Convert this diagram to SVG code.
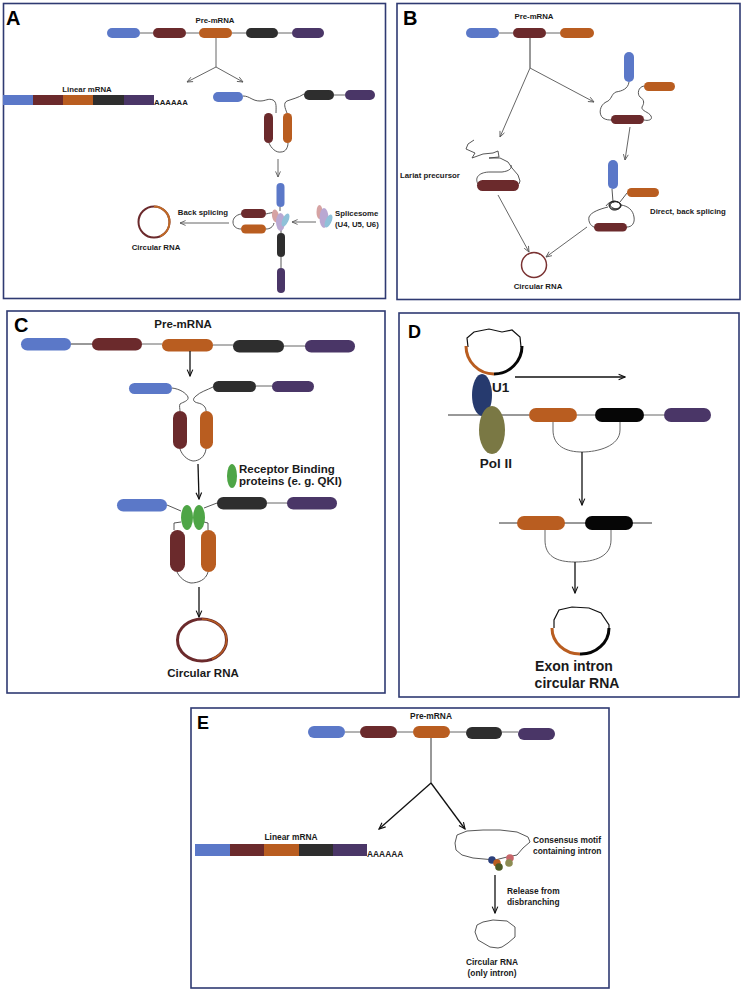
<svg xmlns="http://www.w3.org/2000/svg" width="744" height="991" viewBox="0 0 744 991">
<defs>
<style>
.frame{fill:#fff;stroke:#2f3a72;stroke-width:1.6}
.bl{fill:#5b78c8}.mr{fill:#6b2a2c}.or{fill:#b95d20}.bk{fill:#2e2e2e}.pu{fill:#4a3667}.kk{fill:#060606}
.ln{stroke:#666;stroke-width:1;fill:none}
.lnd{stroke:#333;stroke-width:1;fill:none}
.wg{stroke:#444;stroke-width:0.9;fill:none;stroke-linejoin:round}
.ar{stroke:#555;stroke-width:0.9;fill:none;marker-end:url(#av)}
.ard{stroke:#111;stroke-width:1.3;fill:none;marker-end:url(#avd)}
text{font-family:"Liberation Sans",Arial,sans-serif;font-weight:bold;fill:#1a1a1a}
.big{font-size:20px;fill:#000}
.s8{font-size:7.8px}
.s85{font-size:8.4px}
.s11{font-size:11.5px}
.s13{font-size:13.5px}
.mid{text-anchor:middle}
</style>
<marker id="av" viewBox="0 0 10 10" refX="9" refY="5" markerWidth="7" markerHeight="7" orient="auto" markerUnits="userSpaceOnUse"><path d="M1,1.5 L9,5 L1,8.5" fill="none" stroke="#555" stroke-width="1.2"/></marker>
<marker id="avd" viewBox="0 0 10 10" refX="9" refY="5" markerWidth="8" markerHeight="8" orient="auto" markerUnits="userSpaceOnUse"><path d="M1,1.5 L9,5 L1,8.5" fill="none" stroke="#111" stroke-width="1.4"/></marker>
</defs>
<rect width="744" height="991" fill="#fff"/>

<!-- Panel A -->
<g id="panelA">
<rect class="frame" x="3.5" y="3.5" width="382" height="295"/>
<text class="big" x="6" y="25">A</text>
<g id="A-premrna">
<path class="ln" d="M140,33H153M186,33H199M232,33H246M278,33H292"/>
<rect class="bl" x="107" y="28" width="33" height="10" rx="5"/>
<rect class="mr" x="153" y="28" width="33" height="10" rx="5"/>
<rect class="or" x="199" y="28" width="33" height="10" rx="5"/>
<rect class="bk" x="246" y="28" width="32" height="10" rx="5"/>
<rect class="pu" x="292" y="28" width="32" height="10" rx="5"/>
<text class="s8 mid" x="215" y="23">Pre-mRNA</text>
</g>
<g id="A-linear">
<rect class="bl" x="3" y="95" width="30" height="10"/>
<rect class="mr" x="33" y="95" width="30" height="10"/>
<rect class="or" x="63" y="95" width="30" height="10"/>
<rect class="bk" x="93" y="95" width="31" height="10"/>
<rect class="pu" x="124" y="95" width="30" height="10"/>
<text class="s8 mid" x="87" y="92">Linear mRNA</text>
<text class="s8" x="154" y="105">AAAAAA</text>
</g>
<g id="A-folded">
<path class="wg" d="M243,96 C250,96 252,101 260,101 C266,101 268,98 273,100 C277,102 276,108 276,113"/>
<path class="wg" d="M287,113 C285,108 283,103 287,101 C292,99 298,98 304,94"/>
<path class="wg" d="M269,143 C271,148 276,153 281,152 C286,152 288,147 288,143"/>
<path class="ln" d="M334,95H345"/>
<rect class="bl" x="213" y="92" width="30" height="10" rx="5"/>
<rect class="bk" x="304" y="90" width="30" height="10" rx="5"/>
<rect class="pu" x="345" y="90" width="30" height="10" rx="5"/>
<rect class="mr" x="264" y="113" width="9" height="30" rx="4.5"/>
<rect class="or" x="283" y="113" width="9" height="30" rx="4.5"/>
</g>
<g id="A-splice">
<path class="wg" d="M241,214 C236,215 233,218 233,222 C233,226 236,229 241,229"/>
<path class="wg" d="M266,214 C269,213 272,213 274,212 M266,229 C270,229 273,227 274,223 M280,207V211 M281,230V233 M281,257V268"/>
<rect class="bl" x="276.5" y="183" width="8" height="24" rx="4"/>
<rect class="mr" x="241" y="209" width="25" height="9" rx="4.5"/>
<rect class="or" x="241" y="224.5" width="25" height="9" rx="4.5"/>
<rect class="bk" x="277" y="233" width="8" height="24" rx="4"/>
<rect class="pu" x="277" y="268" width="8" height="25" rx="4"/>
<ellipse cx="275.5" cy="216" rx="3.5" ry="6.5" fill="#d6a3a3" transform="rotate(-10 275.5 216)"/>
<ellipse cx="280.5" cy="222" rx="4.5" ry="9" fill="#b9a8d2"/>
<ellipse cx="285.5" cy="220" rx="3" ry="7" fill="#8fc1d9" transform="rotate(25 285.5 220)"/>
</g>
<g id="A-spliceosome">
<ellipse cx="319.5" cy="212" rx="3" ry="7" fill="#d6a3a3"/>
<ellipse cx="324" cy="218" rx="4.5" ry="10" fill="#b9a8d2"/>
<ellipse cx="328.5" cy="221" rx="3" ry="7" fill="#8fc1d9" transform="rotate(25 328.5 221)"/>
<text class="s8" x="335" y="216">Splicesome</text>
<text class="s8" x="335" y="227">(U4, U5, U6)</text>
</g>
<g id="A-circ">
<circle cx="154" cy="222" r="15.5" fill="none" stroke="#6b2a2c" stroke-width="2"/>
<path d="M154,206.5 A15.5,15.5 0 0,1 169.5,222 A15.5,15.5 0 0,1 160,236.3" fill="none" stroke="#c06a28" stroke-width="2"/>
<text class="s8 mid" x="156" y="250">Circular RNA</text>
<text class="s8 mid" x="203" y="215">Back splicing</text>
</g>
</g>

<!-- Panel B -->
<g id="panelB">
<rect class="frame" x="397" y="3.5" width="343" height="296"/>
<text class="big" x="403" y="25">B</text>
<g id="B-premrna">
<path class="ln" d="M499,33H513M546,33H560"/>
<rect class="bl" x="466" y="28" width="33" height="10" rx="5"/>
<rect class="mr" x="513" y="28" width="33" height="10" rx="5"/>
<rect class="or" x="560" y="28" width="34" height="10" rx="5"/>
<text class="s8 mid" x="534" y="19">Pre-mRNA</text>
</g>
<g id="B-lariat">
<path class="wg" d="M474,140 L468,144 L466,149 L475,153 L472,158 L483,154 L493,153 L498,151 L499,157 L489,158 L500,158 L508,162 L512,168 L518,175 L520,181 L519,184"/>
<path class="wg" d="M478,184 C474,177 480,172 490,172 L502,172 C510,171 512,168 511,165"/>
<rect class="mr" x="477" y="180" width="42" height="11" rx="5.5"/>
<text class="s8" x="400" y="178">Lariat precursor</text>
</g>
<g id="B-right1">
<path class="wg" d="M629,82 C628,89 622,91 616,92 C611,94 612,100 606,102 C600,105 598,114 603,118 C606,120 609,120 612,120"/>
<path class="wg" d="M644,86 C638,87 637,94 640,97 C645,100 644,104 642,107 C641,111 649,112 651,116 C653,120 648,121 644,120"/>
<rect class="bl" x="624" y="52" width="10" height="30" rx="5"/>
<rect class="or" x="644" y="82" width="31" height="9" rx="4.5"/>
<rect class="mr" x="611" y="115" width="33" height="9" rx="4.5"/>
</g>
<g id="B-right2">
<path class="wg" d="M612,189 L613,202 M627,193 L620,202"/>
<path class="wg" d="M608,207 C600,209 591,212 589,217 C588,222 591,226 594,227"/>
<path class="wg" d="M621,205 C628,206 633,210 634,217 C635,223 632,227 627,227"/>
<path d="M606,206 c3,-5 10,-6 14,-3 c3,3 -2,8 -7,7 c-5,-1 -4,-7 1,-8 c5,-1 9,3 6,6 c-3,3 -10,2 -11,-2 c-1,-4 5,-6 9,-4 c4,2 3,7 -2,7 c-5,0 -8,-3 -6,-6 c2,-3 8,-2 10,1 c2,3 -3,6 -7,4 c-4,-2 -4,-6 1,-6" fill="none" stroke="#222" stroke-width="0.8"/>
<rect class="bl" x="608" y="160" width="10" height="29" rx="5"/>
<rect class="or" x="627" y="188" width="32" height="9" rx="4.5"/>
<rect class="mr" x="594" y="223" width="33" height="8.5" rx="4.25"/>
<text class="s8" x="650" y="214">Direct, back splicing</text>
</g>
<g id="B-circ">
<circle cx="534" cy="265" r="12.5" fill="none" stroke="#7a3232" stroke-width="1.5"/>
<text class="s8 mid" x="538" y="289">Circular RNA</text>
</g>
</g>

<!-- Panel C -->
<g id="panelC">
<rect class="frame" x="7" y="311" width="378" height="382"/>
<text class="big" x="14" y="332">C</text>
<g id="C-premrna">
<path class="lnd" d="M71,344H92"/>
<path class="ln" d="M142,344H162M213,345H233M284,346H305" stroke="#999"/>
<rect class="bl" x="21" y="338" width="50" height="12.5" rx="6.25"/>
<rect class="mr" x="92" y="338" width="50" height="12.5" rx="6.25"/>
<rect class="or" x="162" y="339" width="51" height="12.5" rx="6.25"/>
<rect class="bk" x="233" y="340" width="51" height="12.5" rx="6.25"/>
<rect class="pu" x="305" y="340" width="50" height="12.5" rx="6.25"/>
<text class="s11 mid" x="183" y="328">Pre-mRNA</text>
</g>
<g id="C-folded">
<path class="wg" d="M172,388 C180,389 186,393 188,397 C189,401 183,402 180,404 C179,406 180,409 180,411"/>
<path class="wg" d="M206,411 C206,407 203,404 198,403 C193,402 192,399 196,396 C200,392 207,390 213,387"/>
<path class="wg" d="M180,449 C182,455 187,460 193,461 C199,461 205,457 206,449"/>
<path class="ln" d="M256,386H272" stroke="#999"/>
<rect class="bl" x="129" y="383" width="43" height="11" rx="5.5"/>
<rect class="bk" x="213" y="381" width="43" height="11" rx="5.5"/>
<rect class="pu" x="272" y="381" width="42" height="11" rx="5.5"/>
<rect class="mr" x="173" y="411" width="14" height="38" rx="7"/>
<rect class="or" x="200" y="411" width="13" height="38" rx="6.5"/>
</g>
<g id="C-legend">
<ellipse cx="232" cy="476" rx="5" ry="12" fill="#4ea546"/>
<text class="s11" x="239" y="473">Receptor Binding</text>
<text class="s11" x="239" y="485">proteins (e. g. QKI)</text>
</g>
<g id="C-bound">
<path class="wg" d="M167,505 L181,511 M204,508 L217,503 M181,522 L174,523 L174,530 M204,522 L208,523 L208,530"/>
<path class="wg" d="M177,572 C180,578 185,582 191,583 C198,583 206,580 208,572"/>
<path class="ln" d="M267,503H287" stroke="#999"/>
<rect class="bl" x="117" y="499" width="50" height="12.5" rx="6.25"/>
<rect class="bk" x="217" y="497" width="50" height="12.5" rx="6.25"/>
<rect class="pu" x="287" y="497" width="50" height="12.5" rx="6.25"/>
<ellipse cx="187" cy="517.5" rx="6" ry="12.5" fill="#4ea546"/>
<ellipse cx="199" cy="517.5" rx="6" ry="12.5" fill="#4ea546"/>
<rect class="mr" x="170" y="530" width="15" height="42" rx="7.5"/>
<rect class="or" x="201" y="530" width="15" height="42" rx="7.5"/>
</g>
<g id="C-circ">
<ellipse cx="202" cy="640" rx="24.5" ry="21" fill="none" stroke="#6b2a2c" stroke-width="3"/>
<path d="M202,619 A24.5,21 0 0,1 226.5,640 A24.5,21 0 0,1 212,659" fill="none" stroke="#b95d20" stroke-width="1.5"/>
<text class="s11 mid" x="203" y="677">Circular RNA</text>
</g>
</g>

<!-- Panel D -->
<g id="panelD">
<rect class="frame" x="399" y="313" width="340" height="384"/>
<text class="big" x="408" y="338" style="font-size:18px">D</text>
<g id="D-circ1">
<path d="M468,347 L467,338 L474,332 L489,329 L502,332 L512,330 L520,337 L521,347" fill="none" stroke="#111" stroke-width="1.2"/>
<path d="M466,346 A28,28 0 0,0 494,374" fill="none" stroke="#b95d20" stroke-width="3"/>
<path d="M494,374 A28,28 0 0,0 522,346" fill="none" stroke="#060606" stroke-width="3"/>
</g>
<g id="D-gene">
<path class="lnd" d="M448,415H529"/>
<path class="ln" d="M577,415H595M644,415H664" stroke="#999"/>
<ellipse cx="482" cy="395" rx="10" ry="21" fill="#263a6e"/>
<ellipse cx="492" cy="430" rx="13" ry="24" fill="#7a7844"/>
<rect class="or" x="529" y="408" width="48" height="14" rx="7"/>
<rect class="kk" x="595" y="408" width="49" height="14" rx="7"/>
<rect class="pu" x="664" y="408" width="47" height="14" rx="7"/>
<path class="ln" d="M553,422 V430 C553,446 566,452 582,452 C598,452 620,446 620,430 V422" stroke="#777"/>
<text class="s13" x="492" y="392">U1</text>
<text class="s13 mid" x="496" y="468">Pol II</text>
</g>
<g id="D-gene2">
<path class="lnd" d="M499,523H652"/>
<rect class="or" x="517" y="516" width="48" height="14" rx="7"/>
<rect class="kk" x="585" y="516" width="48" height="14" rx="7"/>
<path class="ln" d="M545,530 V540 C545,556 556,562 575,562 C596,562 611,556 611,540 V530" stroke="#555"/>
</g>
<g id="D-circ2">
<path d="M554,628 L554,620 L559,610 L572,607 L589,608 L601,613 L609,625 L609,630" fill="none" stroke="#111" stroke-width="1.2"/>
<path d="M552,628 A28,26 0 0,0 580,654" fill="none" stroke="#b95d20" stroke-width="3"/>
<path d="M580,654 A28,26 0 0,0 609,628" fill="none" stroke="#060606" stroke-width="3"/>
<text class="s13 mid" x="574" y="671" style="font-size:14px">Exon intron</text>
<text class="s13 mid" x="577" y="688" style="font-size:14px">circular RNA</text>
</g>
</g>

<!-- Panel E -->
<g id="panelE">
<rect class="frame" x="191" y="708" width="418" height="280"/>
<text class="big" x="197" y="729" style="font-size:18px">E</text>
<g id="E-premrna">
<path class="ln" d="M345,732H360M397,732H413M450,732H466M502,732H518"/>
<rect class="bl" x="308" y="726" width="37" height="12" rx="6"/>
<rect class="mr" x="360" y="726" width="37" height="12" rx="6"/>
<rect class="or" x="413" y="726" width="37" height="12" rx="6"/>
<rect class="bk" x="466" y="727" width="36" height="12" rx="6"/>
<rect class="pu" x="518" y="728" width="37" height="12" rx="6"/>
<text class="s85 mid" x="431" y="719">Pre-mRNA</text>
</g>
<g id="E-linear">
<rect class="bl" x="195" y="844" width="35" height="12"/>
<rect class="mr" x="230" y="844" width="34" height="12"/>
<rect class="or" x="264" y="844" width="35" height="12"/>
<rect class="bk" x="299" y="844" width="34" height="12"/>
<rect class="pu" x="333" y="844" width="34" height="12"/>
<text class="s85 mid" x="291" y="840">Linear mRNA</text>
<text class="s85" x="367" y="857">AAAAAA</text>
</g>
<g id="E-intron">
<path d="M455,843 L457,835 L467,831 L483,830 L500,830 L517,832 L528,837 L530,842 L523,848 L517,855 L507,857 L495,860 L473,858 L462,855 L456,850 Z" fill="none" stroke="#444" stroke-width="0.9"/>
<circle cx="492" cy="860" r="3.8" fill="#2b3f7a"/>
<circle cx="497" cy="863" r="3.8" fill="#b95d20"/>
<circle cx="499" cy="867" r="3.8" fill="#4c5a26"/>
<circle cx="510" cy="858" r="3.8" fill="#c9666a"/>
<circle cx="509" cy="863" r="3.8" fill="#8c8c52"/>
<text class="s85" x="533" y="843">Consensus motif</text>
<text class="s85" x="533" y="854">containing intron</text>
<text class="s85" x="507" y="894">Release from</text>
<text class="s85" x="507" y="905">disbranching</text>
</g>
<g id="E-circ">
<path d="M475,932 L477,925 L483,922 L493,920 L507,921 L515,927 L515,937 L508,943 L502,947 L498,948 L490,947 L478,940 Z" fill="none" stroke="#444" stroke-width="0.9"/>
<text class="s85 mid" x="492" y="965">Circular RNA</text>
<text class="s85 mid" x="492" y="976">(only intron)</text>
</g>
</g>

<!-- Connectors -->
<g id="connectors">
<path class="ln" d="M216,38V67"/>
<path class="ar" d="M216,67L187,82"/>
<path class="ar" d="M216,67L243,82"/>
<path class="ar" d="M278,159V177"/>
<path class="ar" d="M316,222H292" stroke="#222"/>
<path class="ar" d="M229,223H180" stroke="#222"/>
<path class="lnd" d="M530,38V68"/>
<path class="ar" d="M530,68L500,137"/>
<path class="ar" d="M530,68L594,102"/>
<path class="ar" d="M630,127L625,160"/>
<path class="ar" d="M498,195L529,252" stroke="#222"/>
<path class="ar" d="M587,227L546,257" stroke="#222"/>
<path class="ard" d="M190,351V376"/>
<path class="ard" d="M198,464L199,499"/>
<path class="ard" d="M199,587V617"/>
<path class="ard" d="M515,377H625"/>
<path class="ard" d="M582,452V505"/>
<path class="ard" d="M575,562V593"/>
<path class="lnd" d="M431,738V783"/>
<path class="ard" d="M431,783L379,829"/>
<path class="ard" d="M431,783L465,829"/>
<path class="ard" d="M495,875V913"/>
</g>
</svg>
